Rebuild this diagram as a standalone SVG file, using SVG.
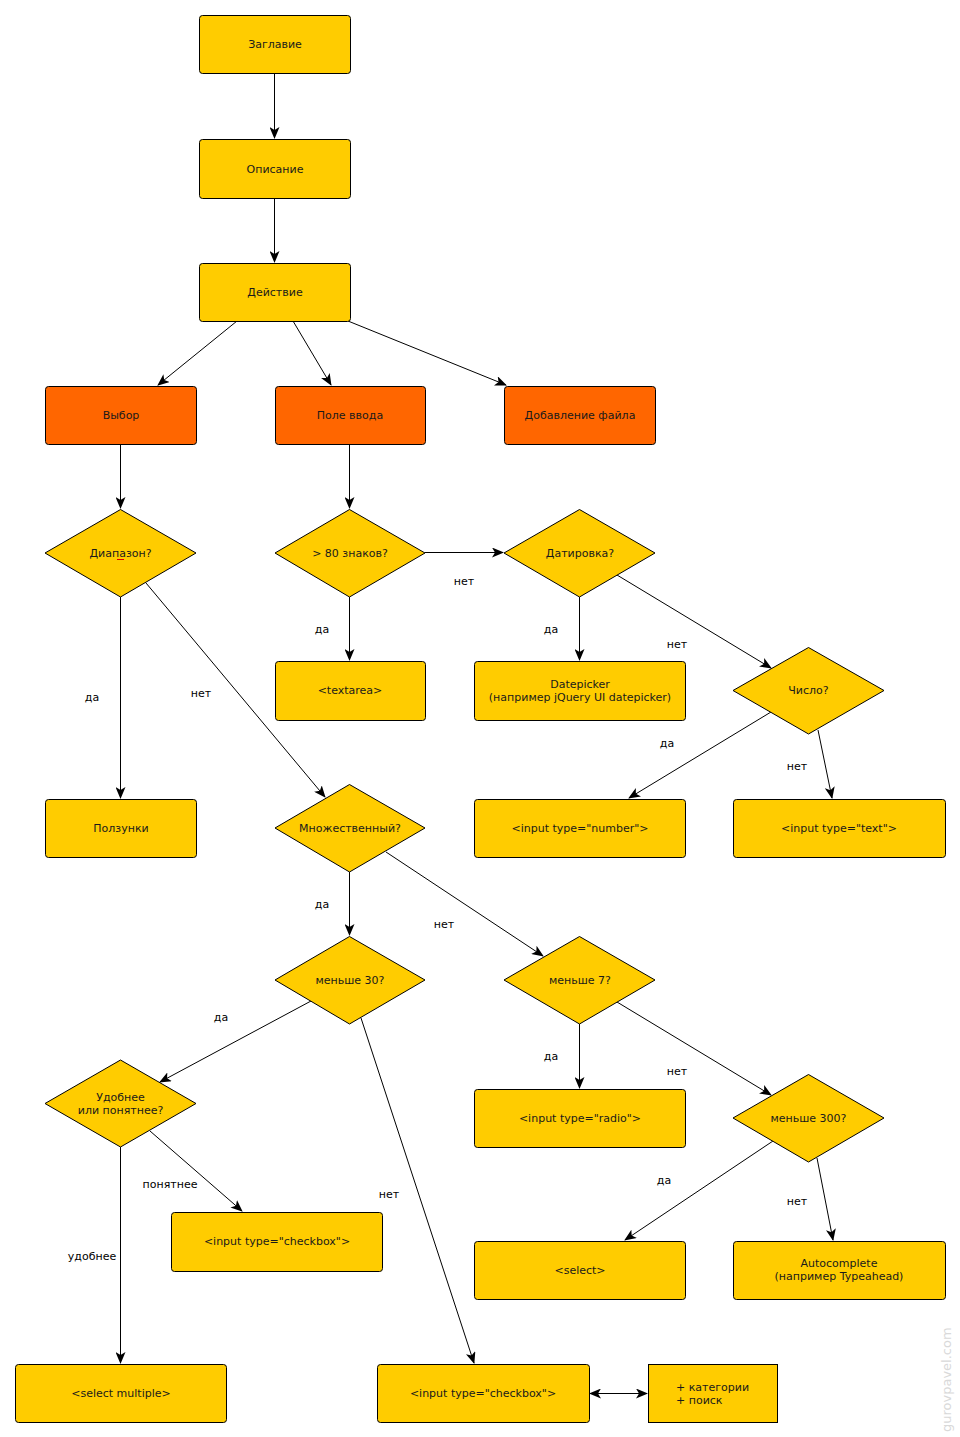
<svg xmlns="http://www.w3.org/2000/svg" width="960" height="1437" viewBox="0 0 960 1437">
<defs>
<marker id="ah" viewBox="0 0 12 10" refX="11" refY="5" markerWidth="12" markerHeight="10" markerUnits="userSpaceOnUse" orient="auto-start-reverse">
<path d="M0,0 L12,5 L0,10 L3,5 z" fill="#000"/>
</marker>
<style>
.n{fill:#ffcc00;stroke:#000;stroke-width:1}
.o{fill:#ff6600;stroke:#000;stroke-width:1}
.t{font-family:"DejaVu Sans",sans-serif;font-size:11px;fill:#1a1a1a;text-anchor:middle}
.l{font-family:"DejaVu Sans",sans-serif;font-size:11px;fill:#000;text-anchor:middle}
.c line{stroke:#000;stroke-width:1;fill:none;marker-end:url(#ah)}
</style>
</defs>
<rect width="960" height="1437" fill="#fff"/>
<g class="c" id="connectors">
<line x1="274.5" y1="73" x2="274.5" y2="138"/>
<line x1="274.5" y1="198" x2="274.5" y2="262"/>
<line x1="237" y1="321" x2="158" y2="385"/>
<line x1="293" y1="321" x2="331" y2="385"/>
<line x1="348" y1="321" x2="506" y2="385"/>
<line x1="120.5" y1="444" x2="120.5" y2="508"/>
<line x1="349.5" y1="444" x2="349.5" y2="508"/>
<line x1="425" y1="552.5" x2="503" y2="552.5"/>
<line x1="349.5" y1="597" x2="349.5" y2="660"/>
<line x1="579.5" y1="597" x2="579.5" y2="660"/>
<line x1="617" y1="575" x2="771" y2="668"/>
<line x1="771" y1="712" x2="629" y2="798"/>
<line x1="818" y1="730" x2="832" y2="798"/>
<line x1="120.5" y1="597" x2="120.5" y2="798"/>
<line x1="146" y1="583" x2="325" y2="797"/>
<line x1="349.5" y1="872" x2="349.5" y2="935"/>
<line x1="386" y1="852" x2="543" y2="956"/>
<line x1="311" y1="1001" x2="160" y2="1082"/>
<line x1="361" y1="1018" x2="474" y2="1363"/>
<line x1="579.5" y1="1024" x2="579.5" y2="1088"/>
<line x1="617" y1="1002" x2="771" y2="1095"/>
<line x1="773" y1="1141" x2="625" y2="1240"/>
<line x1="817" y1="1158" x2="833" y2="1240"/>
<line x1="150" y1="1131" x2="242" y2="1211"/>
<line x1="120.5" y1="1147" x2="120.5" y2="1363"/>
<line x1="590" y1="1393.5" x2="647" y2="1393.5" style="marker-start:url(#ah)"/>
</g>
<g id="labels">
<text class="l" x="464" y="585">нет</text>
<text class="l" x="322" y="633">да</text>
<text class="l" x="551" y="633">да</text>
<text class="l" x="677" y="648">нет</text>
<text class="l" x="667" y="747">да</text>
<text class="l" x="797" y="770">нет</text>
<text class="l" x="92" y="701">да</text>
<text class="l" x="201" y="697">нет</text>
<text class="l" x="322" y="908">да</text>
<text class="l" x="444" y="928">нет</text>
<text class="l" x="221" y="1021">да</text>
<text class="l" x="389" y="1198">нет</text>
<text class="l" x="551" y="1060">да</text>
<text class="l" x="677" y="1075">нет</text>
<text class="l" x="664" y="1184">да</text>
<text class="l" x="797" y="1205">нет</text>
<text class="l" x="170" y="1188">понятнее</text>
<text class="l" x="92" y="1260">удобнее</text>
</g>
<g id="n1"><rect class="n" x="199.5" y="15.5" width="151" height="58" rx="3"/><text class="t" x="275" y="48">Заглавие</text></g>
<g id="n2"><rect class="n" x="199.5" y="139.5" width="151" height="59" rx="3"/><text class="t" x="275" y="173">Описание</text></g>
<g id="n3"><rect class="n" x="199.5" y="263.5" width="151" height="58" rx="3"/><text class="t" x="275" y="296">Действие</text></g>
<g id="n4"><rect class="o" x="45.5" y="386.5" width="151" height="58" rx="3"/><text class="t" x="121" y="419">Выбор</text></g>
<g id="n5"><rect class="o" x="275.5" y="386.5" width="150" height="58" rx="3"/><text class="t" x="350" y="419">Поле ввода</text></g>
<g id="n6"><rect class="o" x="504.5" y="386.5" width="151" height="58" rx="3"/><text class="t" x="580" y="419">Добавление файла</text></g>
<g id="d1"><polygon class="n" points="120.5,509.5 196,553 120.5,597 45,553"/><text class="t" x="120.5" y="557">Диапазон?</text><line x1="117" y1="559.5" x2="124" y2="559.5" stroke="#d00" stroke-width="1"/></g>
<g id="d2"><polygon class="n" points="349.5,509.5 425,553 349.5,597 275,553"/><text class="t" x="350" y="557">&gt; 80 знаков?</text></g>
<g id="d3"><polygon class="n" points="579.5,509.5 655,553 579.5,597 504,553"/><text class="t" x="580" y="557">Датировка?</text></g>
<g id="n7"><rect class="n" x="275.5" y="661.5" width="150" height="59" rx="3"/><text class="t" x="350" y="694">&lt;textarea&gt;</text></g>
<g id="n8"><rect class="n" x="474.5" y="661.5" width="211" height="59" rx="3"/><text class="t" x="580" y="688">Datepicker</text><text class="t" x="580" y="701">(например jQuery UI datepicker)</text></g>
<g id="d4"><polygon class="n" points="808.5,647.5 884,690.5 808.5,734 733,690.5"/><text class="t" x="808.5" y="694">Число?</text></g>
<g id="n9"><rect class="n" x="45.5" y="799.5" width="151" height="58" rx="3"/><text class="t" x="121" y="832">Ползунки</text></g>
<g id="d5"><polygon class="n" points="349.5,784.5 425,828 349.5,872 275,828"/><text class="t" x="350" y="832">Множественный?</text></g>
<g id="n10"><rect class="n" x="474.5" y="799.5" width="211" height="58" rx="3"/><text class="t" x="580" y="832">&lt;input type="number"&gt;</text></g>
<g id="n11"><rect class="n" x="733.5" y="799.5" width="212" height="58" rx="3"/><text class="t" x="839" y="832">&lt;input type="text"&gt;</text></g>
<g id="d6"><polygon class="n" points="349.5,936.5 425,980 349.5,1024 275,980"/><text class="t" x="350" y="984">меньше 30?</text></g>
<g id="d7"><polygon class="n" points="579.5,936.5 655,980 579.5,1024 504,980"/><text class="t" x="580" y="984">меньше 7?</text></g>
<g id="d8"><polygon class="n" points="120.5,1060 196,1103.5 120.5,1147 45,1103.5"/><text class="t" x="120.5" y="1101">Удобнее</text><text class="t" x="120.5" y="1114">или понятнее?</text></g>
<g id="n12"><rect class="n" x="474.5" y="1089.5" width="211" height="58" rx="3"/><text class="t" x="580" y="1122">&lt;input type="radio"&gt;</text></g>
<g id="d9"><polygon class="n" points="808.5,1074.5 884,1118 808.5,1162 733,1118"/><text class="t" x="808.5" y="1122">меньше 300?</text></g>
<g id="n13"><rect class="n" x="171.5" y="1212.5" width="211" height="59" rx="3"/><text class="t" x="277" y="1245">&lt;input type="checkbox"&gt;</text></g>
<g id="n14"><rect class="n" x="474.5" y="1241.5" width="211" height="58" rx="3"/><text class="t" x="580" y="1274">&lt;select&gt;</text></g>
<g id="n15"><rect class="n" x="733.5" y="1241.5" width="212" height="58" rx="3"/><text class="t" x="839" y="1267">Autocomplete</text><text class="t" x="839" y="1280">(например Typeahead)</text></g>
<g id="n16"><rect class="n" x="15.5" y="1364.5" width="211" height="58" rx="3"/><text class="t" x="121" y="1397">&lt;select multiple&gt;</text></g>
<g id="n17"><rect class="n" x="377.5" y="1364.5" width="212" height="58" rx="3"/><text class="t" x="483" y="1397">&lt;input type="checkbox"&gt;</text></g>
<g id="n18"><rect class="n" x="648.5" y="1364.5" width="129" height="58"/><text class="t" x="676" y="1391" style="text-anchor:start">+ категории</text><text class="t" x="676" y="1404" style="text-anchor:start">+ поиск</text></g>
<text x="951" y="1432" transform="rotate(-90 951 1432)" font-family="DejaVu Sans,sans-serif" font-size="13" fill="#d9d9d9">gurovpavel.com</text>
</svg>
